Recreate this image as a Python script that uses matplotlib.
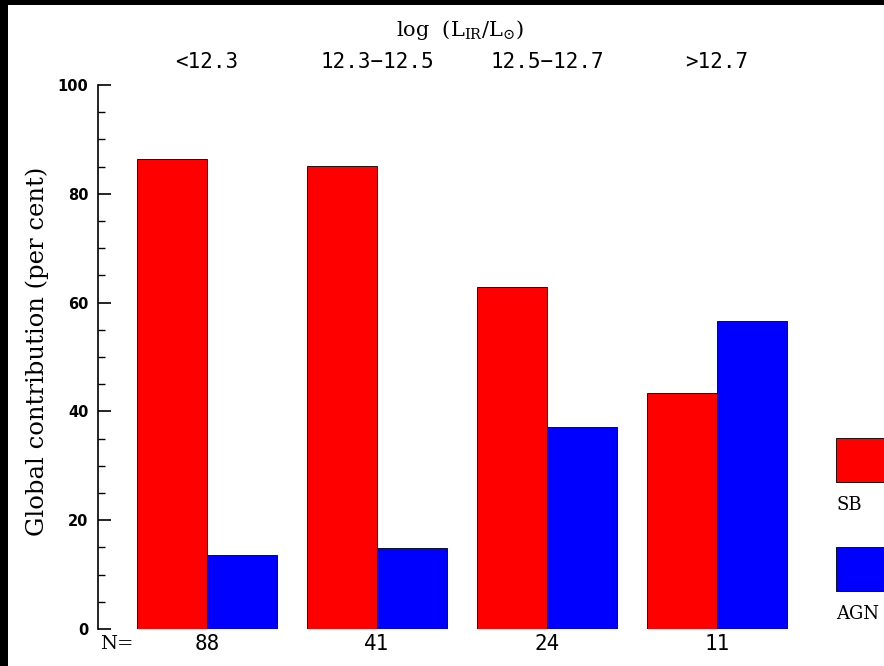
import matplotlib
matplotlib.use("Agg")
import matplotlib.pyplot as plt
from matplotlib.patches import Rectangle
import numpy as np

bins = ["<12.3", "12.3\u221212.5", "12.5\u221212.7", ">12.7"]
counts = ["88", "41", "24", "11"]
sb = [86.4, 85.1, 62.9, 43.4]
agn = [13.6, 14.9, 37.1, 56.6]
series = ["SB", "AGN"]
colors = ["#ff0000", "#0000ff"]

plt.rcParams["mathtext.fontset"] = "custom"
plt.rcParams["mathtext.rm"] = "DejaVu Serif"

W, H = 884, 666
fig = plt.figure(figsize=(W / 100, H / 100), dpi=100)
fig.patch.set_facecolor("white")

ax_left, ax_right = 98, 884
ax_top, ax_bot = 85, 629
ax = fig.add_axes([ax_left / W, (H - ax_bot) / H, (ax_right - ax_left) / W, (ax_bot - ax_top) / H])

x = np.arange(len(bins))
w = 70 / 170
ax.bar(x - w / 2, sb, width=w, color=colors[0], edgecolor="black", linewidth=0.6)
ax.bar(x + w / 2, agn, width=w, color=colors[1], edgecolor="black", linewidth=0.6)

ax.set_xlim(-109 / 170, (884 - 207) / 170)
ax.set_ylim(0, 100)
for s in ["top", "right", "bottom"]:
    ax.spines[s].set_visible(False)
ax.spines["left"].set_linewidth(1.2)
ax.set_xticks([])
ax.set_yticks([0, 20, 40, 60, 80, 100])
ax.set_yticks(np.arange(0, 101, 5), minor=True)
ax.tick_params(axis="y", which="major", direction="in", length=9, width=1.2, pad=7,
               labelsize=10.5)
ax.tick_params(axis="y", which="minor", direction="in", length=5, width=1.0)
for lbl in ax.get_yticklabels():
    lbl.set_fontweight("bold")
    lbl.set_family("DejaVu Sans")

fig.text(37 / W, (H - 351) / H, "Global contribution (per cent)", rotation=90,
         ha="center", va="center", family="DejaVu Serif", fontsize=17.5)

# top bin labels and bottom counts
for i in range(len(bins)):
    ax.text(x[i], 1.0 + 23 / 544, bins[i], transform=ax.get_xaxis_transform(),
            ha="center", va="center", fontsize=15, family="DejaVu Sans Mono")
    ax.text(x[i], -15 / 544, counts[i], transform=ax.get_xaxis_transform(),
            ha="center", va="center", fontsize=15, family="DejaVu Sans Mono")
fig.text(117 / W, (H - 644) / H, "N=", ha="center", va="center",
         fontsize=14, family="DejaVu Serif")
fig.text(460 / W, (H - 30) / H, r"log  (L$_{\mathregular{IR}}$/L$_{\odot}$)", ha="center", va="center",
         fontsize=15, family="DejaVu Serif")

# legend boxes
for k, (lab, col) in enumerate(zip(series, colors)):
    y0 = 438 + k * 109
    fig.patches.append(Rectangle((836 / W, (H - y0 - 44) / H), 60 / W, 44 / H,
                                 transform=fig.transFigure, facecolor=col,
                                 edgecolor="black", linewidth=0.6))
    fig.text(836 / W, (H - y0 - 67) / H, lab, ha="left", va="center",
             fontsize=13, family="DejaVu Serif")

# black frame strips
fig.patches.append(Rectangle((0, 0), 8 / W, 1, transform=fig.transFigure, facecolor="black", edgecolor="none"))
fig.patches.append(Rectangle((0, 1 - 5 / H), 1, 5 / H, transform=fig.transFigure, facecolor="black", edgecolor="none"))

fig.savefig("out.png", dpi=100)
